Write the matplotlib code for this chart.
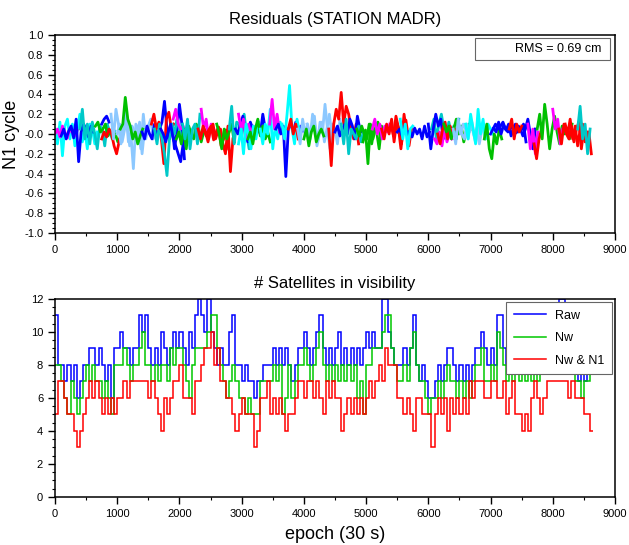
import numpy as np
import matplotlib
matplotlib.use("Agg")
import matplotlib.pyplot as plt
from matplotlib.ticker import MultipleLocator
from matplotlib.patches import Rectangle

plt.rcParams['font.family'] = ['Liberation Sans', 'DejaVu Sans']

# ---- residual arcs (color, first epoch, values every 40 epochs) ----
arc_step = 40
arcs = [
	("cyan", 0, [0.05, -0.10, 0.12, -0.22, 0.08, 0.15, -0.05, 0.10, -0.12, 0.05, 0.20, -0.08, 0.04, -0.15, 0.10, 0.06, -0.10, 0.02]),
	("magenta", 0, [0.00, 0.05, -0.03, 0.08, 0.02, -0.04, 0.06, 0.01, -0.02, 0.04]),
	("blue", 100, [-0.02, 0.05, -0.05, 0.03, 0.08, -0.04, 0.15, -0.28, 0.02, 0.10, 0.05, -0.03, 0.08, 0.02]),
	("teal", 400, [0.05, 0.25, -0.05, 0.10, -0.10, 0.12, 0.00, -0.15, 0.08, 0.05, -0.12, 0.10, 0.02, -0.05, 0.03]),
	("green", 650, [0.08, 0.12, 0.02, 0.05, 0.10, -0.02, 0.03, -0.05, 0.00, -0.08, -0.04, 0.02]),
	("blue", 750, [0.10, 0.15, 0.18, 0.12]),
	("red", 750, [-0.05, 0.02, -0.03, 0.05, 0.00, -0.12, -0.20, -0.08, 0.03]),
	("skyblue", 900, [0.20, -0.05, 0.25, 0.10, -0.10, 0.05, 0.22, -0.08, 0.00, -0.35, 0.10, 0.05, -0.15, 0.20, -0.05, 0.08, 0.15, -0.05, 0.03]),
	("skyblue", 1000, [0.00, 0.10, -0.08, 0.05, 0.15, -0.12, 0.08, 0.02, -0.05, 0.12, -0.20, 0.05, 0.00, 0.10]),
	("green", 1050, [0.05, 0.10, 0.37, 0.15, 0.08, -0.05, 0.02, -0.10, -0.02, 0.05]),
	("blue", 1400, [0.02, -0.05, 0.08, 0.00, -0.05, 0.10, -0.02, 0.05, 0.12, 0.33, 0.05, -0.05, 0.10, -0.15, 0.02, 0.30, 0.10, -0.25]),
	("red", 1550, [0.10, 0.20, 0.05, 0.12, -0.05, -0.30, 0.15, 0.22, 0.05, 0.10]),
	("teal", 1600, [0.05, -0.10, 0.10, -0.05, -0.20, -0.42, -0.05, 0.10, 0.00, 0.15, 0.05, -0.10]),
	("blue", 1700, [0.05, 0.00, -0.08, 0.02, 0.10, -0.05, -0.12, -0.20, -0.28, -0.10, 0.05]),
	("magenta", 1900, [0.15, 0.25, 0.10, 0.05, 0.08, -0.02, 0.05, 0.02]),
	("green", 1950, [-0.05, 0.02, -0.10, 0.05, -0.15, 0.08, 0.00, -0.05, 0.10, 0.05, -0.08, 0.02]),
	("teal", 2050, [0.10, -0.05, 0.15, -0.15, 0.05, 0.10, -0.10, 0.20]),
	("magenta", 2350, [0.25, 0.05, 0.15, -0.05, 0.10, 0.05]),
	("red", 2300, [0.05, -0.05, 0.08, 0.02, -0.08, 0.05, 0.10, -0.05, 0.03, 0.05, -0.10, -0.20, 0.08, -0.38, -0.05]),
	("red", 2350, [0.00, 0.06, -0.02, 0.04, 0.08, -0.06, 0.02, 0.07, -0.12, -0.05, 0.04, -0.15]),
	("green", 2600, [0.10, 0.00, -0.15, 0.05, -0.05, 0.02, 0.10, -0.08]),
	("teal", 2800, [0.05, 0.28, -0.10, 0.12, 0.10, -0.05, 0.20, 0.00, -0.15, 0.08]),
	("blue", 2900, [0.05, 0.00, 0.10, 0.18, 0.02, -0.08, 0.12, 0.05, -0.02, 0.06, 0.00, 0.20, 0.05]),
	("magenta", 2950, [0.20, 0.05, 0.15, -0.05, 0.10, 0.00, 0.08, 0.02, 0.05]),
	("cyan", 2950, [-0.10, 0.05, -0.20, 0.10, 0.00, -0.15, 0.08, -0.05, 0.12]),
	("green", 3100, [-0.05, 0.02, -0.10, 0.05, 0.15, -0.02, 0.08, -0.05, 0.02, -0.08]),
	("cyan", 3300, [0.05, -0.10, 0.10, 0.00, 0.25, -0.15, 0.08, -0.05, 0.12, 0.02]),
	("magenta", 3450, [0.10, 0.35, 0.05, 0.20, 0.02]),
	("blue", 3550, [0.05, 0.10, 0.00, 0.08, -0.43, 0.05, 0.10, 0.02, 0.12, 0.00, 0.08, 0.03]),
	("cyan", 3650, [0.10, -0.05, 0.20, 0.49, 0.05, -0.10, 0.15, 0.02, 0.05]),
	("red", 3750, [0.05, 0.15, 0.00, 0.10, -0.05]),
	("skyblue", 3900, [0.05, -0.10, 0.15, 0.00, 0.10, -0.05, 0.20, 0.08, -0.08, 0.12, 0.02, 0.30, 0.05, -0.15, 0.10, 0.05, -0.10, 0.15, 0.00, 0.05]),
	("skyblue", 4050, [0.10, -0.05, 0.05, 0.18, -0.12, 0.00, 0.12, -0.08, 0.05, 0.20, -0.02]),
	("green", 4000, [-0.05, 0.05, -0.12, 0.02, 0.08, -0.08, 0.00, 0.05, -0.02]),
	("red", 4400, [0.05, -0.32, 0.10, 0.25, 0.15, 0.42, 0.10, 0.28, 0.20, 0.05, -0.05, 0.10, -0.10]),
	("blue", 4500, [0.02, 0.08, -0.02, 0.05, 0.10, 0.00, 0.15, 0.08, -0.05, 0.18, 0.05, 0.02]),
	("teal", 4600, [0.10, -0.10, 0.15, -0.20, 0.05, 0.00, -0.05, 0.08, -0.08, 0.02]),
	("green", 4850, [0.05, -0.02, 0.08, 0.00, -0.05, 0.10, -0.10, 0.05, 0.02, -0.15, 0.08, 0.00]),
	("green", 4950, [-0.08, 0.04, -0.30, 0.10, -0.05, 0.06, 0.12, -0.02, 0.03]),
	("magenta", 5100, [0.05, 0.15, 0.00, 0.10, -0.05, 0.08, 0.02, 0.10]),
	("red", 5250, [0.05, -0.05, 0.10, 0.00, 0.15, -0.08, 0.12, 0.05, -0.10, 0.20, 0.02, -0.12, 0.05]),
	("red", 5400, [0.10, -0.02, 0.18, 0.06, -0.15, 0.08, 0.14, -0.04]),
	("blue", 5500, [0.02, 0.05, -0.02, 0.08, 0.00, 0.03, -0.03, 0.06, 0.00, 0.05, -0.05, 0.08, -0.03, 0.02]),
	("cyan", 5550, [0.15, -0.05, 0.10, -0.15, 0.05, 0.08]),
	("teal", 6050, [0.05, 0.15, -0.05, 0.10, 0.20, 0.05, -0.02, 0.12, 0.00, 0.08, -0.05, 0.15]),
	("blue", 6000, [0.10, -0.15, 0.05, 0.20, 0.08, 0.15, -0.05, 0.05]),
	("magenta", 6100, [-0.05, -0.10, 0.02, -0.12, 0.05, -0.08, 0.00, -0.05]),
	("red", 6150, [0.00, -0.10, 0.05, 0.12, -0.05, 0.08, 0.02, 0.05]),
	("green", 6250, [0.10, 0.02, 0.08, -0.05, 0.05, 0.15, 0.00, 0.08, -0.08, 0.03, 0.10, 0.05]),
	("skyblue", 6400, [0.05, -0.10, 0.15, 0.00, 0.10, 0.05, -0.05, 0.12, 0.02, -0.08, 0.08, 0.00, 0.10, -0.05, 0.05]),
	("skyblue", 6500, [0.08, 0.00, -0.05, 0.10, 0.02, 0.12, -0.02, 0.06, -0.10, 0.04]),
	("cyan", 6600, [0.10, -0.05, 0.20, 0.05, -0.10, 0.25, 0.00, 0.15, -0.05, 0.10, 0.05, 0.00]),
	("green", 6900, [-0.05, 0.10, -0.15, -0.25, 0.00, -0.10, 0.05, -0.05]),
	("blue", 7000, [0.00, 0.05, 0.10, 0.05, 0.08, 0.12, 0.05, 0.02, 0.08, 0.05, 0.10, 0.02, 0.05, -0.02, 0.05, 0.15, 0.00, -0.15, 0.05]),
	("blue", 7050, [0.06, 0.02, 0.12, 0.00, 0.09, 0.04, 0.10, -0.02, 0.06, 0.01, 0.08, 0.03, 0.10, -0.08]),
	("red", 7300, [0.05, 0.15, -0.05, 0.10, 0.02, 0.08]),
	("magenta", 7600, [0.10, -0.15, 0.05, -0.20, 0.02]),
	("red", 7700, [-0.10, -0.25, -0.05, 0.05]),
	("green", 7750, [0.05, 0.20, -0.05, 0.30, 0.10, -0.15, 0.05, 0.18, 0.02, -0.10, 0.08, 0.00, 0.05, -0.05, 0.10]),
	("magenta", 8000, [0.25, 0.05, 0.15, -0.10, 0.05]),
	("red", 8100, [0.05, -0.10, 0.10, 0.00, -0.05, 0.08, -0.08, 0.05, 0.12, -0.15, 0.05, -0.05, 0.02, -0.20]),
	("red", 8200, [0.10, 0.00, 0.15, -0.05, 0.08, -0.12, 0.04, 0.10, -0.08, 0.02]),
	("teal", 8400, [0.05, 0.28, -0.05, 0.10, -0.20, 0.05]),
]
rms_label = "RMS = 0.69 cm"

arc_colors = {"blue": "#0000ff", "green": "#00c000", "red": "#ff0000", "cyan": "#00ffff",
	"teal": "#00c8c8", "skyblue": "#8cc8ff", "magenta": "#ff00ff"}

# ---- satellites in view, one value per 50 epochs ----
sat_step = 50
raw = [11, 8, 8, 7, 8, 7, 8, 6, 7, 8,
	8, 9, 9, 8, 9, 8, 7, 8, 6, 9,
	9, 10, 9, 9, 8, 9, 9, 11, 10, 11,
	9, 8, 9, 8, 10, 9, 8, 9, 10, 9,
	10, 9, 8, 10, 9, 11, 12, 11, 10, 12,
	10, 9, 8, 9, 8, 8, 10, 11, 8, 8,
	7, 8, 7, 7, 6, 7, 7, 8, 8, 8,
	9, 8, 9, 8, 9, 8, 7, 8, 9, 9,
	10, 9, 8, 9, 10, 11, 9, 8, 9, 8,
	9, 10, 8, 9, 8, 9, 8, 9, 8, 9,
	10, 9, 10, 9, 9, 12, 12, 10, 9, 8,
	8, 8, 9, 8, 9, 11, 8, 7, 8, 7,
	6, 6, 7, 8, 7, 8, 9, 9, 8, 7,
	8, 7, 8, 7, 8, 9, 9, 10, 9, 8,
	9, 8, 11, 11, 9, 8, 9, 8, 9, 8,
	9, 8, 9, 8, 9, 8, 9, 8, 9, 9,
	10, 11, 12, 12, 10, 9, 9, 8, 7, 8,
	7, 8, 8]
nw = [8, 8, 7, 6, 5, 7, 6, 5, 6, 7,
	8, 7, 8, 7, 7, 6, 7, 6, 5, 8,
	8, 8, 9, 8, 7, 8, 8, 9, 10, 8,
	8, 7, 8, 7, 8, 8, 7, 9, 8, 9,
	9, 8, 7, 6, 8, 9, 9, 9, 9, 10,
	11, 11, 9, 8, 7, 6, 7, 8, 7, 6,
	6, 5, 6, 5, 5, 5, 7, 7, 7, 7,
	8, 7, 8, 5, 6, 8, 6, 7, 8, 8,
	9, 8, 7, 8, 9, 10, 8, 7, 8, 7,
	8, 7, 8, 7, 8, 7, 8, 6, 7, 5,
	8, 8, 9, 9, 9, 10, 11, 11, 9, 8,
	7, 7, 8, 7, 9, 10, 8, 7, 7, 6,
	5, 6, 6, 7, 6, 7, 8, 7, 7, 6,
	7, 6, 7, 6, 7, 8, 8, 9, 7, 7,
	8, 7, 10, 9, 8, 7, 8, 7, 8, 7,
	8, 7, 8, 7, 8, 7, 8, 8, 8, 8,
	9, 10, 11, 11, 9, 8, 8, 7, 7, 6,
	7, 7, 8]
nw_n1 = [5, 7, 7, 6, 5, 5, 4, 3, 4, 5,
	6, 7, 6, 7, 6, 5, 6, 5, 6, 5,
	6, 6, 7, 6, 7, 7, 7, 7, 7, 7,
	6, 7, 6, 5, 4, 6, 5, 6, 7, 7,
	8, 6, 6, 6, 5, 7, 7, 8, 9, 9,
	10, 8, 9, 7, 7, 6, 6, 5, 4, 5,
	6, 5, 5, 5, 3, 4, 6, 6, 7, 5,
	6, 5, 6, 5, 4, 5, 5, 6, 7, 7,
	6, 7, 7, 6, 7, 6, 5, 7, 6, 7,
	6, 6, 4, 5, 6, 5, 6, 5, 6, 5,
	6, 7, 6, 7, 8, 7, 9, 8, 8, 8,
	6, 6, 5, 6, 5, 4, 6, 6, 5, 5,
	5, 3, 5, 6, 5, 6, 4, 6, 5, 6,
	5, 6, 5, 7, 6, 7, 7, 7, 6, 6,
	7, 7, 6, 6, 7, 5, 6, 7, 5, 5,
	4, 5, 4, 6, 7, 6, 5, 6, 7, 7,
	7, 7, 7, 7, 7, 6, 7, 6, 6, 6,
	5, 5, 4]
sat_series = [("Raw", raw, "#0000ff"), ("Nw", nw, "#00c800"), ("Nw & N1", nw_n1, "#ff0000")]

fig = plt.figure(figsize=(6.29, 5.45), dpi=100)
ax1 = fig.add_axes([0.0874, 0.5725, 0.8903, 0.3633])
ax2 = fig.add_axes([0.0874, 0.0881, 0.8903, 0.3633])

for color, start, vals in arcs:
	x = start + arc_step * np.arange(len(vals))
	ax1.plot(x, vals, color=arc_colors[color], linewidth=2.0)

ax1.set_xlim(0, 9000)
ax1.set_ylim(-1.0, 1.0)
ax1.yaxis.set_major_locator(MultipleLocator(0.2))
ax1.yaxis.set_minor_locator(MultipleLocator(0.05))
ax1.set_title("Residuals (STATION MADR)", fontsize=12, pad=8)
ax1.set_ylabel("N1 cycle", fontsize=13, labelpad=3)
# RMS box
ax1.add_patch(Rectangle((0.75, 0.875), 0.241, 0.11, transform=ax1.transAxes, fc="white",
	ec="#666666", lw=0.8, zorder=5))
ax1.text(0.975, 0.93, rms_label, transform=ax1.transAxes, ha="right", va="center", fontsize=9, zorder=6)
ax1.set_yticks(np.arange(-1.0, 1.01, 0.2))
ax1.set_yticklabels(["%.1f" % v for v in np.arange(-1.0, 1.01, 0.2)])

for label, vals, color in sat_series:
	edges = sat_step * np.arange(len(vals) + 1)
	ax2.stairs(vals, edges, baseline=None, color=color, linewidth=1.1, label=label)

ax2.set_xlim(0, 9000)
ax2.set_ylim(0, 12)
ax2.yaxis.set_major_locator(MultipleLocator(2))
ax2.yaxis.set_minor_locator(MultipleLocator(0.5))
ax2.set_title("# Satellites in visibility", fontsize=12, pad=8)
ax2.set_xlabel("epoch (30 s)", fontsize=13, labelpad=5)
leg = ax2.legend(loc="upper right", fontsize=9, fancybox=False, framealpha=1, edgecolor="#666666",
	borderaxespad=0.25, handlelength=2.6, handletextpad=0.7, labelspacing=0.85, borderpad=0.6)
leg.get_frame().set_linewidth(0.8)

for ax in (ax1, ax2):
	ax.xaxis.set_major_locator(MultipleLocator(1000))
	ax.xaxis.set_minor_locator(MultipleLocator(500))
	ax.tick_params(which="major", direction="out", length=5, width=1, labelsize=8, top=False, right=False)
	ax.tick_params(which="minor", direction="out", length=2.5, width=0.8, top=False, right=False)
	for s in ax.spines.values():
		s.set_linewidth(1.1)

fig.savefig("out.png", dpi=100)
